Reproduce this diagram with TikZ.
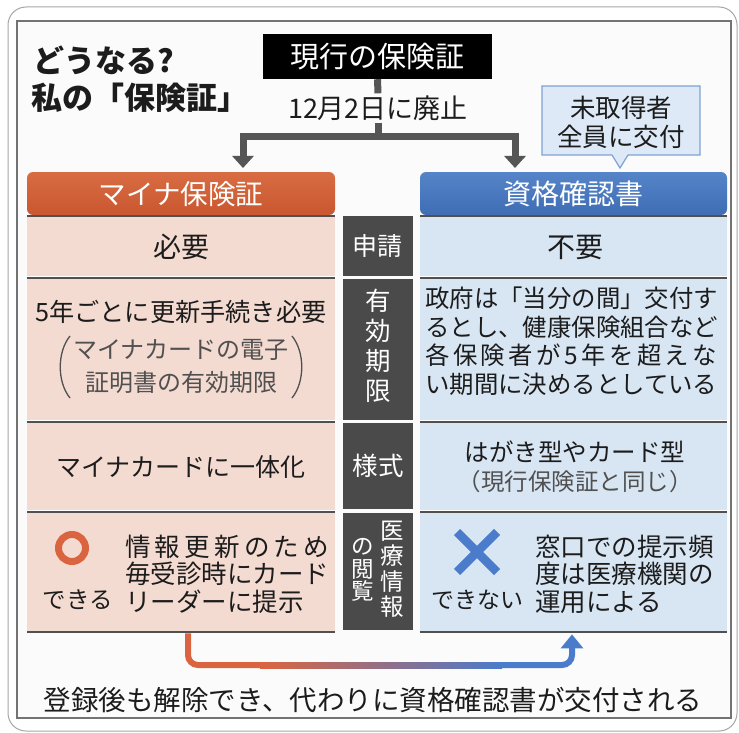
\documentclass[tikz,border=0pt]{standalone}
\usepackage{fontspec}
\setmainfont{Noto Sans CJK JP}
\usetikzlibrary{arrows.meta,calc}
\definecolor{orng}{HTML}{C9572F}
\definecolor{orngtop}{HTML}{D86C42}
\definecolor{ring}{HTML}{DB6440}
\definecolor{pinkc}{HTML}{F4DBD1}
\definecolor{bluh}{HTML}{3E6DB5}
\definecolor{bluhtop}{HTML}{5584C8}
\definecolor{bluec}{HTML}{D8E6F4}
\definecolor{xblue}{HTML}{4B7BCB}
\definecolor{midg}{HTML}{4A4A4A}
\definecolor{arrg}{HTML}{555555}
\definecolor{ink}{HTML}{1C1C1C}
\definecolor{gink}{HTML}{505050}
\definecolor{calf}{HTML}{DDE9F6}
\definecolor{cald}{HTML}{7EA2D4}
\newcommand{\fs}[2]{\fontsize{#1}{#2}\selectfont}
\tikzset{
  cellL/.style={fill=pinkc, draw=none, anchor=north west, minimum width=308pt, inner sep=0pt},
  cellR/.style={fill=bluec, draw=none, anchor=north west, minimum width=307pt, inner sep=0pt},
  cellM/.style={fill=midg, draw=none, anchor=north west, minimum width=70pt, inner sep=0pt},
  midtxt/.style={text=white, inner sep=0pt, align=center},
  body/.style={text=ink, inner sep=0pt},
  garrow/.style={line width=7pt, arrg, -{Triangle[width=21pt,length=12pt]}},
  sepline/.style={line width=1.8pt, gink},
}
\begin{document}
\begin{tikzpicture}[x=1pt,y=-1pt]
\useasboundingbox (0,0) rectangle (739,733);
\fill[white] (0,0) rectangle (739,733);
% frames
\draw[line width=1pt, gray!70, rounded corners=18pt] (8,7) rectangle (737,731);
\draw[line width=1.2pt, gray!90!black, fill=white!97!gray] (17,21) rectangle (731,718);

% title
\node[body, anchor=west, font=\fs{31}{36}\bfseries] (t1) at (33,60) {どうなる?};
\node[body, anchor=west, font=\fs{31}{36}\bfseries] (t2) at (31,98) {私の「保険証」};

% current insurance card
\node[fill=black, text=white, minimum width=229pt, minimum height=45pt, inner sep=0pt, font=\fs{29}{32}] (cur) at (377.5,56.5) {現行の保険証};
\node[body, font=\fs{27}{30}, fill=white!97!gray, inner sep=2pt] (date) at (378,108) {12月2日に廃止};
\coordinate (j) at (378,137);
\coordinate (aL) at (243,168);
\coordinate (aR) at (515,168);
\draw[line width=7pt, arrg] (cur.south) -- (date.north);
\draw[garrow] (date.south) -- (j) -| (aL);
\draw[garrow] (j) -| (aR);

% callout
\draw[line width=1.2pt, cald, fill=calf] (542,86) -- (700,86) -- (700,155) -- (628,155) -- (620,168) -- (612,155) -- (542,155) -- cycle;
\node[body, align=center, font=\fs{25.5}{29}] (call) at (621,122) {未取得者\\全員に交付};

% headers
\shade[top color=orngtop, bottom color=orng, rounded corners=6pt] (27,215) -- (27,172) -- (335,172) -- (335,215) -- cycle;
\node[text=white, font=\fs{27.5}{30}, inner sep=0pt] (mh) at (181,194) {マイナ保険証};
\shade[top color=bluhtop, bottom color=bluh, rounded corners=6pt] (420,215) -- (420,172) -- (727,172) -- (727,215) -- cycle;
\node[text=white, font=\fs{28}{30}, inner sep=0pt] (sk) at (573,194) {資格確認書};

% cells
\node[cellL, minimum height=62pt] (L1) at (27,216) {};
\node[cellL, minimum height=143pt] (L2) at (27,279) {};
\node[cellL, minimum height=88pt] (L3) at (27,423) {};
\node[cellL, minimum height=119pt] (L4) at (27,513) {};
\node[cellR, minimum height=62pt] (R1) at (420,216) {};
\node[cellR, minimum height=143pt] (R2) at (420,279) {};
\node[cellR, minimum height=88pt] (R3) at (420,423) {};
\node[cellR, minimum height=119pt] (R4) at (420,513) {};
\node[cellM, minimum height=60pt] (M1) at (343,216) {};
\node[cellM, minimum height=141pt] (M2) at (343,279) {};
\node[cellM, minimum height=86pt] (M3) at (343,423) {};
\node[cellM, minimum height=117pt] (M4) at (343,513) {};

% separators
\foreach \yy in {216,278,422,512,632}{
  \draw[sepline] (27,\yy) -- (335,\yy);
  \draw[sepline] (420,\yy) -- (727,\yy);
}
\foreach \yy in {276,420,510}{
  \draw[line width=0.8pt, white] (27,\yy) -- (335,\yy);
  \draw[line width=0.8pt, white] (420,\yy) -- (727,\yy);
}

% middle labels
\node[midtxt, font=\fs{25}{28}] (m1) at (377,246) {申請};
\node[midtxt, font=\fs{25.5}{30}] (m2) at (378,346) {有\\効\\期\\限};
\node[midtxt, font=\fs{25.5}{28}] (m3) at (378,466) {様式};
\node[midtxt, font=\fs{23.5}{25.5}] (m4a) at (392,569) {医\\療\\情\\報};
\node[midtxt, font=\fs{22.5}{22.5}] (m4b) at (363,570) {の\\閲\\覧};

% left texts
\node[body, font=\fs{28}{30}] (l1) at (181,247) {必要};
\node[body, font=\fs{25.2}{28}] (l2) at (181,312) {5年ごとに更新手続き必要};
\node[body, text=gink, font=\fs{24}{28}] (l2b) at (181,350) {マイナカードの電子};
\node[body, text=gink, font=\fs{24}{28}] (l2c) at (181,382) {証明書の有効期限};
\draw[line width=1.3pt, gink] (70,336) .. controls (57,352) and (57,382) .. (70,398);
\draw[line width=1.3pt, gink] (292,336) .. controls (305,352) and (305,382) .. (292,398);
\node[body, font=\fs{25}{28}] (l3) at (181,467) {マイナカードに一体化};
\draw[line width=7pt, ring] (72,548) circle (13.5pt);
\node[body, font=\fs{23.5}{26}] (ok) at (78,600) {できる};
\node[body, anchor=west, align=left, font=\fs{25.5}{27.5}] (l4) at (125,574) {\makebox[204pt][s]{情\hfill 報\hfill 更\hfill 新\hfill の\hfill た\hfill め}\\毎受診時にカード\\リーダーに提示};

% right texts
\node[body, font=\fs{28}{30}] (r1) at (575,247) {不要};
\node[body, anchor=west, align=left, font=\fs{24.4}{28.5}] (r2) at (425,341) {政府は「当分の間」交付す\\るとし、健康保険組合など\\\makebox[292pt][s]{各\hfill 保\hfill 険\hfill 者\hfill が\hfill 5\hfill 年\hfill を\hfill 超\hfill え\hfill な}\\い期間に決めるとしている};
\node[body, font=\fs{24.5}{28}] (r3) at (575,452) {はがき型やカード型};
\node[body, text=gink, font=\fs{23.5}{26}] (r3b) at (575,482) {（現行保険証と同じ）};
\draw[line width=8.5pt, xblue] (457,532) -- (497,572);
\draw[line width=8.5pt, xblue] (497,532) -- (457,572);
\node[body, font=\fs{23}{26}] (ng) at (477,600) {できない};
\node[body, anchor=west, align=left, font=\fs{25.5}{27.5}] (r4) at (535,574) {窓口での提示頻\\度は医療機関の\\運用による};

% bottom connector
\coordinate (b0) at ($(L4.south west)+(161,1)$);
\coordinate (b1) at (188,665);
\coordinate (b2) at (262,665);
\coordinate (b3) at (500,665);
\coordinate (b4) at (572,665);
\coordinate (b5) at ($(R4.south west)+(152,2)$);
\draw[line width=6pt, ring, rounded corners=10pt] (b0) -- (b1) -- (b2);
\shade[left color=ring, right color=xblue] (260,662) rectangle (502,668);
\draw[line width=6pt, xblue, rounded corners=10pt, -{Triangle[width=22pt,length=14pt]}] (b3) -- (b4) -- (b5);

\node[body, font=\fs{27.5}{30}] (bt) at (373,700) {登録後も解除でき、代わりに資格確認書が交付される};
\end{tikzpicture}
\end{document}
